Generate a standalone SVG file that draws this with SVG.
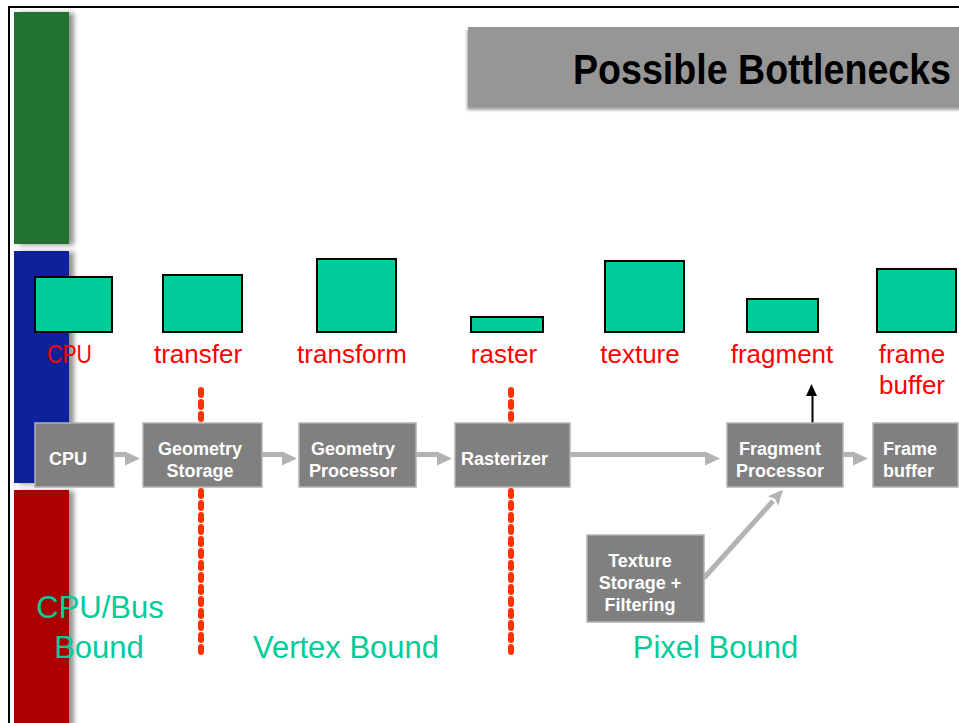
<svg xmlns="http://www.w3.org/2000/svg" width="959" height="723" viewBox="0 0 959 723">
<defs>
<filter id="shR" x="-20%" y="-5%" width="150%" height="110%">
<feDropShadow dx="5" dy="1" stdDeviation="2.5" flood-color="#777" flood-opacity="0.8"/>
</filter>
<filter id="shB" x="-5%" y="-20%" width="110%" height="150%">
<feDropShadow dx="-1" dy="3" stdDeviation="1.5" flood-color="#888" flood-opacity="0.8"/>
</filter>
<marker id="hd" markerUnits="userSpaceOnUse" markerWidth="16" markerHeight="16" refX="0" refY="3" orient="auto" overflow="visible">
<path d="M0,0 L15,7 L0,14 Z" fill="#B3B3B3"/>
</marker>
<marker id="hd2" markerUnits="userSpaceOnUse" markerWidth="16" markerHeight="16" refX="0" refY="7" orient="auto" overflow="visible">
<path d="M0,0 L15,7 L0,14 L3,7 Z" fill="#B3B3B3"/>
</marker>
</defs>
<style>
.bar{stroke:none}
.meter{fill:#00CC99;stroke:#000;stroke-width:2}
.lbl{font-family:"Liberation Sans",Arial,sans-serif;font-size:26px;fill:#FF0000;text-anchor:middle}
.box{fill:#808080;stroke:#B3B3B3;stroke-width:1.5}
.bt{font-family:"Liberation Sans",Arial,sans-serif;font-size:18px;font-weight:bold;fill:#FFFFFF}
.gl{font-family:"Liberation Sans",Arial,sans-serif;font-size:31px;fill:#00CC99;text-anchor:middle}
.conn{stroke:#B3B3B3;stroke-width:5;fill:none}
.dot{stroke:#FF3300;stroke-width:6;stroke-linecap:round;stroke-dasharray:5 7;fill:none}
</style>
<rect x="0" y="0" width="959" height="723" fill="#FFFFFF"/>
<rect x="9" y="7" width="1000" height="800" fill="none" stroke="#000" stroke-width="2"/>

<g id="bars">
<rect class="bar" x="14" y="12" width="55" height="232" fill="#237230" filter="url(#shR)"/>
<rect class="bar" x="14" y="251" width="55" height="232" fill="#10209A" filter="url(#shR)"/>
<rect class="bar" x="14" y="490" width="55" height="240" fill="#AA0505" filter="url(#shR)"/>
</g>

<g id="title">
<rect x="468" y="27" width="500" height="80" fill="#969696" filter="url(#shB)"/>
<text x="573" y="84" font-family="'Liberation Sans',Arial,sans-serif" font-size="42" font-weight="bold" fill="#000" textLength="378" lengthAdjust="spacingAndGlyphs">Possible Bottlenecks</text>
</g>

<g id="meters">
<rect class="meter" x="35" y="277" width="77" height="55"/>
<rect class="meter" x="163" y="275" width="79" height="57"/>
<rect class="meter" x="317" y="259" width="79" height="73"/>
<rect class="meter" x="471" y="317" width="72" height="15"/>
<rect class="meter" x="605" y="261" width="79" height="71"/>
<rect class="meter" x="747" y="299" width="71" height="33"/>
<rect class="meter" x="877" y="269" width="79" height="63"/>
</g>

<g id="labels">
<text class="lbl" x="69.5" y="363" textLength="45" lengthAdjust="spacingAndGlyphs">CPU</text>
<text class="lbl" x="198" y="363">transfer</text>
<text class="lbl" x="352" y="363">transform</text>
<text class="lbl" x="504" y="363">raster</text>
<text class="lbl" x="640" y="363">texture</text>
<text class="lbl" x="782" y="363">fragment</text>
<text class="lbl" x="912" y="363">frame</text>
<text class="lbl" x="912" y="394">buffer</text>
</g>

<g id="connectors">
<path class="dot" d="M201,390 V419"/>
<path class="dot" d="M201,491 V659"/>
<path class="dot" d="M511,390 V419"/>
<path class="dot" d="M511,491 V659"/>
<line class="conn" x1="114" y1="454.5" x2="125" y2="454.5" marker-end="url(#hd)"/>
<line class="conn" x1="262" y1="454.5" x2="282" y2="454.5" marker-end="url(#hd)"/>
<line class="conn" x1="416" y1="454.5" x2="437" y2="454.5" marker-end="url(#hd)"/>
<line class="conn" x1="570" y1="454.5" x2="705" y2="454.5" marker-end="url(#hd)"/>
<line class="conn" x1="843" y1="454.5" x2="853" y2="454.5" marker-end="url(#hd)"/>
<line class="conn" x1="704" y1="578" x2="773" y2="501" marker-end="url(#hd2)"/>
<line x1="812.5" y1="423" x2="812.5" y2="395" stroke="#000" stroke-width="2"/>
<path d="M806,396 L811.5,384 L817,396 Z" fill="#000"/>
</g>

<g id="n-cpu">
<rect class="box" x="35" y="423" width="79" height="64"/>
<text class="bt" x="49" y="465">CPU</text>
</g>
<g id="n-geomstorage">
<rect class="box" x="143" y="423" width="119" height="64"/>
<text class="bt" x="200" y="455" text-anchor="middle">Geometry</text>
<text class="bt" x="200" y="477" text-anchor="middle">Storage</text>
</g>
<g id="n-geomproc">
<rect class="box" x="299" y="423" width="117" height="64"/>
<text class="bt" x="353" y="455" text-anchor="middle">Geometry</text>
<text class="bt" x="353" y="477" text-anchor="middle">Processor</text>
</g>
<g id="n-rasterizer">
<rect class="box" x="455" y="423" width="115" height="64"/>
<text class="bt" x="461" y="465">Rasterizer</text>
</g>
<g id="n-fragproc">
<rect class="box" x="727" y="423" width="116" height="64"/>
<text class="bt" x="780" y="455" text-anchor="middle">Fragment</text>
<text class="bt" x="780" y="477" text-anchor="middle">Processor</text>
</g>
<g id="n-framebuffer">
<rect class="box" x="873" y="423" width="85" height="64"/>
<text class="bt" x="883" y="455">Frame</text>
<text class="bt" x="883" y="477">buffer</text>
</g>
<g id="n-texture">
<rect class="box" x="587" y="535" width="117" height="87"/>
<text class="bt" x="640" y="567" text-anchor="middle">Texture</text>
<text class="bt" x="640" y="589" text-anchor="middle">Storage +</text>
<text class="bt" x="640" y="611" text-anchor="middle">Filtering</text>
</g>

<g id="regions">
<text class="gl" x="100" y="618">CPU/Bus</text>
<text class="gl" x="99" y="658">Bound</text>
<text class="gl" x="346" y="658">Vertex Bound</text>
<text class="gl" x="715.5" y="658">Pixel Bound</text>
</g>
</svg>
